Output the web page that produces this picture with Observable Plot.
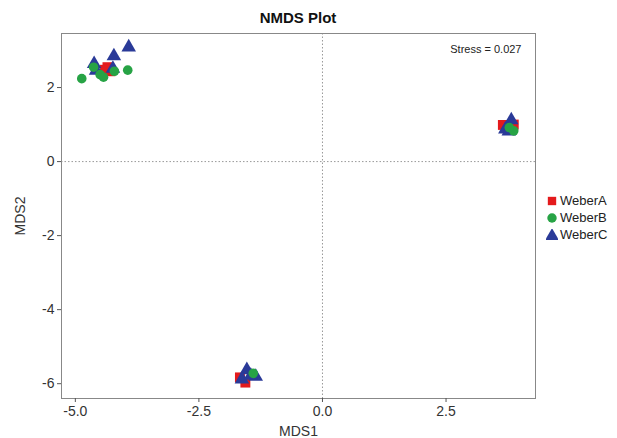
<!DOCTYPE html>
<html>
<head>
<meta charset="utf-8">
<script src="https://cdn.jsdelivr.net/npm/d3@7"></script>
<script src="https://cdn.jsdelivr.net/npm/@observablehq/plot@0.6"></script>
<style>
  html, body { margin: 0; padding: 0; background: #fff; }
  #wrap { position: relative; width: 617px; height: 438px; overflow: hidden; font-family: "Liberation Sans", Arial, sans-serif; }
  #title { height: 30px; padding-top: 5px; box-sizing: border-box; line-height: 26px; text-align: center; font-weight: bold; font-size: 15px; color: #111; width: 596px; }
  #legend { position: absolute; left: 546px; top: 192px; font-size: 13px; color: #222; }
  #legend div { height: 17px; line-height: 17px; display: flex; align-items: center; }
  #legend svg { margin-right: 2px; }
</style>
</head>
<body>
<div id="wrap">
  <div id="title">NMDS Plot</div>
  <div id="chart"></div>
  <div id="legend"></div>
</div>
<script>
const groups = ["WeberA", "WeberB", "WeberC"];
const colors = ["#e41a1c", "#27a345", "#2a3a98"];
const symbols = ["square", "circle", "triangle"];

const weberA_x = [-4.35, -4.29, -4.40, 3.65, 3.74, 3.87, -1.67, -1.56];
const weberA_y = [2.55, 2.44, 2.48, 0.99, 0.90, 1.00, -5.83, -5.97];

const weberB_x = [-4.87, -4.63, -4.50, -4.43, -4.21, -3.94, 3.87, 3.78, -1.40];
const weberB_y = [2.24, 2.55, 2.35, 2.28, 2.44, 2.47, 0.83, 0.92, -5.72];

const weberC_x = [-3.92, -4.22, -4.62, -4.58, -4.24, 3.82, 3.70, 3.77, -1.53, -1.35, -1.63, -1.45];
const weberC_y = [3.09, 2.85, 2.64, 2.46, 2.51, 1.12, 0.87, 0.82, -5.63, -5.81, -5.88, -5.78];

const xTicks = [-5, -2.5, 0, 2.5];
const yTicks = [-6, -4, -2, 0, 2];
const stressLabel = ["Stress = 0.027"];

const rows = [];
[[weberB_x, weberB_y, "WeberB"], [weberC_x, weberC_y, "WeberC"], [weberA_x, weberA_y, "WeberA"]].forEach(([xs, ys, g]) => {
  xs.forEach((x, i) => rows.push({MDS1: x, MDS2: ys[i], group: g}));
});

const fmtX = d => d3.format(".1f")(d).replace("\u2212", "-");
const fmtY = d => String(d).replace("\u2212", "-");
const sizeOf = g => g === "WeberA" ? 5.6 : (g === "WeberB" ? 4.8 : 5.4);

const plot = Plot.plot({
  width: 617,
  height: 408,
  marginLeft: 61,
  marginRight: 82,
  marginTop: 3,
  marginBottom: 40,
  style: { fontFamily: "Liberation Sans, Arial, sans-serif", fontSize: "13px", color: "#333", background: "#fff", overflow: "visible" },
  x: { domain: [-5.28, 4.31] },
  y: { domain: [-6.4, 3.46] },
  r: { type: "identity" },
  color: { domain: groups, range: colors },
  symbol: { domain: groups, range: symbols },
  marks: [
    Plot.ruleX([0], { stroke: "#999", strokeDasharray: "1.5,2", strokeWidth: 1 }),
    Plot.ruleY([0], { stroke: "#999", strokeDasharray: "1.5,2", strokeWidth: 1 }),
    Plot.frame({ stroke: "#888", strokeWidth: 1 }),
    Plot.axisX({ ticks: xTicks, tickFormat: fmtX, tickSize: 4, tickPadding: 4, label: "MDS1", labelAnchor: "center", labelArrow: "none", labelOffset: 37, fontSize: 14, stroke: "#555" }),
    Plot.axisY({ ticks: yTicks, tickFormat: fmtY, tickSize: 4, tickPadding: 3, label: "MDS2", labelAnchor: "center", labelArrow: "none", labelOffset: 46, fontSize: 14, stroke: "#555" }),
    Plot.dot(rows, { x: "MDS1", y: "MDS2", fill: "group", symbol: "group", r: d => sizeOf(d.group), stroke: "none" }),
    Plot.text(stressLabel, { text: d => d, frameAnchor: "top-right", dx: -14, dy: 12, fontSize: 11, fill: "#222" })
  ]
});
document.getElementById("chart").appendChild(plot);

const legend = document.getElementById("legend");
groups.forEach((g, i) => {
  const row = document.createElement("div");
  const s = d3.create("svg").attr("width", 12).attr("height", 12);
  const sym = d3.symbol().type(i === 0 ? d3.symbolSquare : i === 1 ? d3.symbolCircle : d3.symbolTriangle).size(i === 2 ? 80 : 70);
  s.append("path").attr("d", sym()).attr("transform", i === 2 ? "translate(6,7)" : "translate(6,6)").attr("fill", colors[i]);
  row.appendChild(s.node());
  const t = document.createElement("span");
  t.textContent = g;
  row.appendChild(t);
  legend.appendChild(row);
});
</script>
</body>
</html>
